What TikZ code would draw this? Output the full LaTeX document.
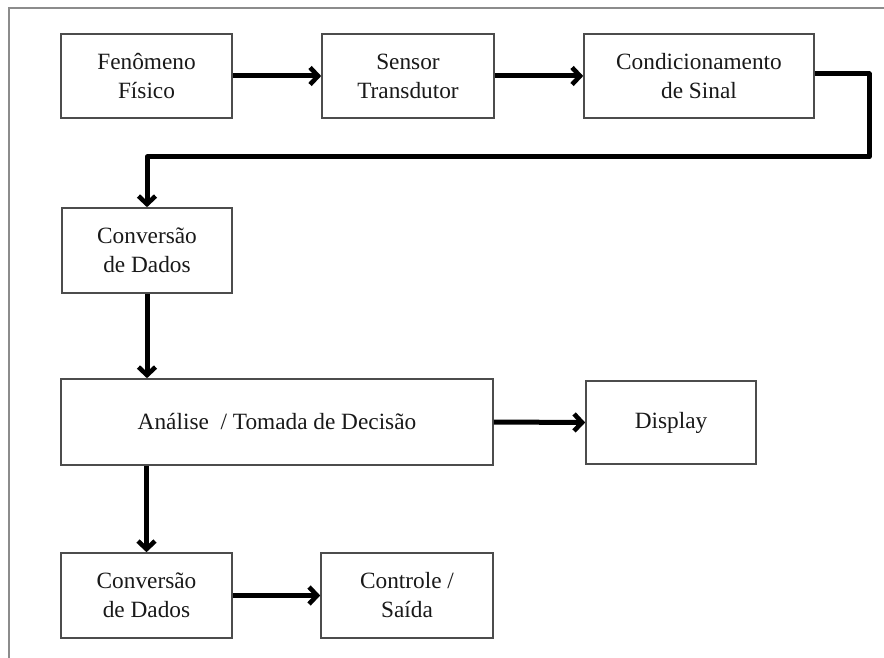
\documentclass[tikz,border=0pt]{standalone}
\usepackage{fontspec}
\setmainfont{Liberation Serif}
\usetikzlibrary{arrows.meta}
\begin{document}
\begin{tikzpicture}[x=1pt,y=-1pt,
  blk/.style={draw=black!70,line width=1.6pt,rectangle,inner sep=0pt,align=center,
    text=black!90,font=\fontsize{23.3}{29}\selectfont},
  flow/.style={line width=5pt,black,-{Straight Barb[length=8pt,width=17pt,line width=4.6pt]},line join=round}]
\useasboundingbox (0,0) rectangle (884,658);
\fill[white] (0,0) rectangle (884,658);
% outer frame (only left and top edges visible)
\draw[black!45,line width=2.2pt] (9,660) -- (9,8) -- (886,8);
% boxes
\node[blk,minimum width=171pt,minimum height=84pt] (b1) at (146.5,76) {Fenômeno\\Físico};
\node[blk,minimum width=172pt,minimum height=84pt] (b2) at (408,76) {Sensor\\Transdutor};
\node[blk,minimum width=230pt,minimum height=84pt] (b3) at (699,76) {Condicionamento\\de Sinal};
\node[blk,minimum width=170pt,minimum height=85pt] (b4) at (147,250.5) {Conversão\\de Dados};
\node[blk,minimum width=432pt,minimum height=86pt] (b5) at (277,422) {Análise\ \ / Tomada de Decisão};
\node[blk,minimum width=170pt,minimum height=83pt] (b6) at (671,422.5) {Display};
\node[blk,minimum width=171pt,minimum height=85pt] (b7) at (146.5,595.5) {Conversão\\de Dados};
\node[blk,minimum width=172pt,minimum height=85pt] (b8) at (407,595.5) {Controle /\\Saída};
% connectors
\coordinate (c1) at (869,74);
\coordinate (c2) at (869,157);
\coordinate (c3) at (147,157);
\draw[flow] (b1.east) -- (b2.west);
\draw[flow] (b2.east) -- (b3.west);
\draw[flow] (b3.east |- c1) -- (c1) -- (c2) -- (c3) -- (b4.north);
\draw[flow] (b4.south) -- (b4.south |- b5.north);
\draw[flow] (b5.east) -- (b6.west);
\draw[flow] (b7.north |- b5.south) -- (b7.north);
\draw[flow] (b7.east) -- (b8.west);
\end{tikzpicture}
\end{document}
